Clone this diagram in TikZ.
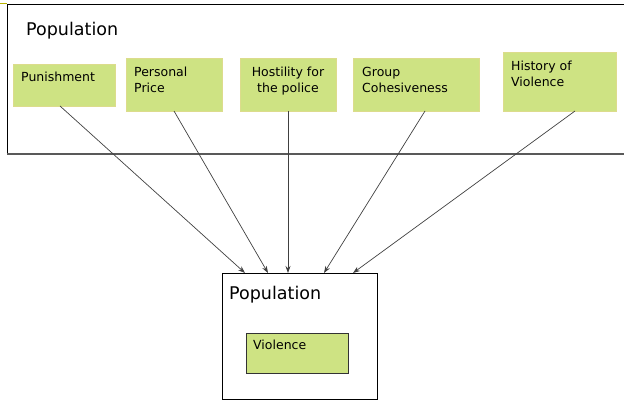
\documentclass[tikz,border=0pt]{standalone}
\usepackage{fontspec}
\setmainfont{DejaVu Sans}
\usetikzlibrary{arrows.meta}
\definecolor{boxfill}{HTML}{CEE383}
\definecolor{boxedge}{HTML}{DCDC8C}
\definecolor{markcol}{HTML}{B8B400}
\tikzset{
  factor/.style={draw=boxedge, fill=boxfill, line width=0.8pt},
  frame/.style={draw=black, line width=0.8pt},
  lbl/.style={anchor=base west, inner sep=0pt, font=\fontsize{12.5}{16.5}\selectfont, align=left},
  poplbl/.style={anchor=base west, inner sep=0pt, font=\fontsize{17.5}{20}\selectfont},
  arr/.style={draw=black!75, line width=0.7pt, -{Stealth[length=7pt,width=5pt]}},
}
\begin{document}
\begin{tikzpicture}[x=1pt,y=-1pt]
\useasboundingbox (0,0) rectangle (624,401);
% outer population frame (right edge off the picture)
\draw[frame] (630,4) -- (7,4) -- (7,154);
\draw[draw=black!65, line width=1.4pt] (7,154) -- (630,154);
\draw[draw=markcol, line width=1pt] (0,4) -- (7,4);
\node[poplbl] (poptop) at (26,36) {Population};
% factor boxes
\draw[factor] (13,64) rectangle (115,106);
\coordinate (pun) at (60,106);
\node[lbl] (punl) at (21,82) {Punishment};
\draw[factor] (126,58) rectangle (222,111);
\coordinate (pp) at (174,111);
\node[lbl] (ppl) at (134,93) {Personal\\Price};
\draw[factor] (240,58) rectangle (336,111);
\coordinate (hos) at (288,111);
\node[lbl, anchor=base, align=center] (hosl) at (288,93) {Hostility for\\the police};
\draw[factor] (353,58) rectangle (479,111);
\coordinate (grp) at (425,111);
\node[lbl] (grpl) at (362,93) {Group\\Cohesiveness};
\draw[factor] (503,52) rectangle (616,111);
\coordinate (his) at (575,111);
\node[lbl] (hisl) at (511,87) {History of\\Violence};
% bottom population box
\draw[frame] (222,273) rectangle (377,399);
\node[poplbl] (popbot) at (229,299) {Population};
\draw[draw=black!80, fill=boxfill, line width=0.8pt] (246,333) rectangle (348,373);
\node[lbl] (viol) at (253,349) {Violence};
% arrow targets
\coordinate (t1) at (245,273);
\coordinate (t2) at (268,273);
\coordinate (t3) at (288,273);
\coordinate (t4) at (324,273);
\coordinate (t5) at (353,273);
\draw[arr] (pun) -- (t1);
\draw[arr] (pp) -- (t2);
\draw[arr] (hos) -- (t3);
\draw[arr] (grp) -- (t4);
\draw[arr] (his) -- (t5);
\end{tikzpicture}
\end{document}
